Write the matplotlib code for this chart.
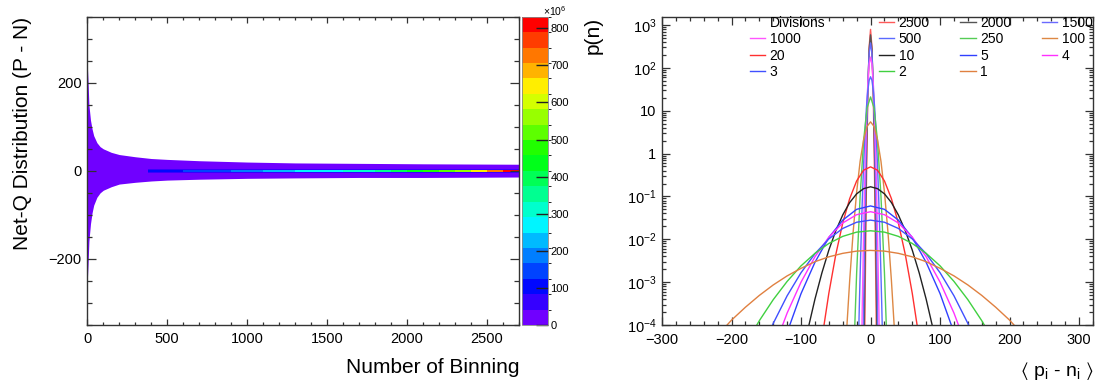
import numpy as np
import matplotlib
matplotlib.use("Agg")
import matplotlib.pyplot as plt
from matplotlib.colors import ListedColormap, BoundaryNorm, hsv_to_rgb
from matplotlib.lines import Line2D
from matplotlib.ticker import MultipleLocator, LogLocator, FuncFormatter, NullFormatter

plt.rcParams["font.family"] = ["Liberation Sans", "DejaVu Sans"]
plt.rcParams["mathtext.fontset"] = "custom"
plt.rcParams["mathtext.rm"] = "Liberation Sans"
plt.rcParams["mathtext.it"] = "Liberation Sans:italic"
plt.rcParams["mathtext.default"] = "regular"

# ---- left panel: net-Q distribution vs number of binning (2D histogram) ----
# outer envelope of the filled (lowest colour) region
env_x = [0, 5, 10, 20, 30, 40, 60, 80, 100, 150, 200, 300, 400, 500, 700, 1000, 1300, 1700, 2100, 2700]
env_upper = [240, 200, 150, 115, 95, 80, 64, 55, 50, 42, 37, 32, 28, 26, 23, 20, 18, 17, 16, 15]
env_lower = [-250, -210, -160, -120, -95, -78, -60, -50, -44, -36, -30, -26, -23, -21, -19, -17, -16, -15, -15, -14]

# bins along the x axis where the centre (P - N ~ 0) gets the high counts, in units of 1e6
center_edges = [380, 500, 600, 700, 800, 900, 1000, 1100, 1200, 1300, 1400, 1500, 1600,
                1700, 1800, 1900, 2000, 2100, 2200, 2300, 2400, 2500, 2600, 2700]
center_counts = [95, 110, 130, 145, 160, 180, 195, 215, 235, 250, 265, 285, 305,
                 330, 360, 395, 430, 475, 520, 575, 640, 720, 800]
band_counts = [50, 55, 60, 62, 65, 68, 70, 72, 74, 76, 78, 80, 80,
               80, 80, 80, 80, 80, 80, 80, 80, 80, 80]
band_edges = [-5, -1.5, 1.5, 5]
z_max = 831

# ---- right panel: p(n) for each number of divisions ----
divisions = [2500, 2000, 1500, 1000, 500, 250, 100, 20, 10, 5, 4, 3, 2, 1]
div_colors = ["#ff5a5a", "#555555", "#6a6aff", "#ff55ff", "#5a6aff", "#55cc55", "#dd8844",
              "#ff3030", "#222222", "#3040ff", "#ff30ff", "#4050ff", "#40d040", "#e08040"]

x_wide = [-220, -200, -180, -160, -140, -120, -100, -80, -60, -40, -20, 0,
          20, 40, 60, 80, 100, 120, 140, 160, 180, 200, 220]
x_mid = [-100, -90, -80, -70, -60, -50, -40, -30, -20, -10, 0, 10, 20, 30, 40, 50, 60, 70, 80, 90, 100]
x_narrow = [-40, -35, -30, -25, -20, -15, -10, -5, 0, 5, 10, 15, 20, 25, 30, 35, 40]
x_peak = [-20, -18, -16, -14, -12, -10, -8, -6, -4, -2, 0, 2, 4, 6, 8, 10, 12, 14, 16, 18, 20]

p_1 = [5.7e-5, 1.3e-4, 2.6e-4, 4.9e-4, 8.6e-4, 1.4e-3, 2.1e-3, 3.0e-3, 3.9e-3, 4.7e-3, 5.3e-3, 5.5e-3,
       5.3e-3, 4.7e-3, 3.9e-3, 3.0e-3, 2.1e-3, 1.4e-3, 8.6e-4, 4.9e-4, 2.6e-4, 1.3e-4, 5.7e-5]
p_2 = [1.7e-6, 8.3e-6, 3.5e-5, 1.26e-4, 3.9e-4, 1.04e-3, 2.4e-3, 4.7e-3, 8.0e-3, 1.17e-2, 1.47e-2, 1.58e-2,
       1.47e-2, 1.17e-2, 8.0e-3, 4.7e-3, 2.4e-3, 1.04e-3, 3.9e-4, 1.26e-4, 3.5e-5, 8.3e-6, 1.7e-6]
p_3 = [3e-8, 3.4e-7, 2.9e-6, 2.0e-5, 1.09e-4, 4.8e-4, 1.66e-3, 4.6e-3, 1.02e-2, 1.79e-2, 2.5e-2, 2.8e-2,
       2.5e-2, 1.79e-2, 1.02e-2, 4.6e-3, 1.66e-3, 4.8e-4, 1.09e-4, 2.0e-5, 2.9e-6, 3.4e-7, 3e-8]
p_4 = [1e-9, 1e-8, 2e-7, 2.8e-6, 2.6e-5, 1.9e-4, 1.0e-3, 3.9e-3, 1.12e-2, 2.4e-2, 3.75e-2, 4.4e-2,
       3.75e-2, 2.4e-2, 1.12e-2, 3.9e-3, 1.0e-3, 1.9e-4, 2.6e-5, 2.8e-6, 2e-7, 1e-8, 1e-9]
p_5 = [1e-10, 1e-9, 1.3e-8, 3.4e-7, 5.7e-6, 6.7e-5, 5.4e-4, 2.9e-3, 1.1e-2, 2.8e-2, 5.0e-2, 6.0e-2,
       5.0e-2, 2.8e-2, 1.1e-2, 2.9e-3, 5.4e-4, 6.7e-5, 5.7e-6, 3.4e-7, 1.3e-8, 1e-9, 1e-10]
p_10 = [1.3e-5, 8.0e-5, 4.0e-4, 1.64e-3, 5.6e-3, 1.58e-2, 3.7e-2, 7.2e-2, 0.115, 0.152, 0.168,
        0.152, 0.115, 7.2e-2, 3.7e-2, 1.58e-2, 5.6e-3, 1.64e-3, 4.0e-4, 8.0e-5, 1.3e-5]
p_20 = [3e-9, 1.1e-7, 2.8e-6, 4.7e-5, 5.5e-4, 4.4e-3, 2.4e-2, 8.9e-2, 0.23, 0.41, 0.49,
        0.41, 0.23, 8.9e-2, 2.4e-2, 4.4e-3, 5.5e-4, 4.7e-5, 2.8e-6, 1.1e-7, 3e-9]
p_100 = [1.5e-6, 5.2e-5, 1.1e-3, 1.5e-2, 0.126, 0.66, 2.1, 4.3, 5.5,
         4.3, 2.1, 0.66, 0.126, 1.5e-2, 1.1e-3, 5.2e-5, 1.5e-6]
p_250 = [1e-14, 1e-11, 1.2e-8, 8e-6, 1.65e-3, 0.10, 2.0, 11.6, 21,
         11.6, 2.0, 0.10, 1.65e-3, 8e-6, 1.2e-8, 1e-11, 1e-14]
p_500 = [3.8e-7, 1.4e-5, 3.5e-4, 5.9e-3, 6.9e-2, 0.55, 3.0, 11.3, 29, 51, 62,
         51, 29, 11.3, 3.0, 0.55, 6.9e-2, 5.9e-3, 3.5e-4, 1.4e-5, 3.8e-7]
p_1000 = [1e-14, 1e-11, 1e-8, 1.6e-6, 2.2e-4, 1.4e-2, 0.42, 5.9, 39, 122, 178,
          122, 39, 5.9, 0.42, 1.4e-2, 2.2e-4, 1.6e-6, 1e-8, 1e-11, 1e-14]
p_1500 = [1e-18, 1e-15, 1e-12, 1e-9, 5.2e-7, 2.7e-4, 4.4e-2, 2.3, 39, 216, 380,
          216, 39, 2.3, 4.4e-2, 2.7e-4, 5.2e-7, 1e-9, 1e-12, 1e-15, 1e-18]
p_2000 = [1e-21, 1e-18, 1e-15, 1e-12, 1e-9, 3.7e-6, 3.3e-3, 0.66, 29, 277, 590,
          277, 29, 0.66, 3.3e-3, 3.7e-6, 1e-9, 1e-12, 1e-15, 1e-18, 1e-21]
p_2500 = [1e-23, 1e-20, 1e-17, 1e-14, 1e-11, 4.4e-8, 2.2e-4, 0.16, 18, 309, 790,
          309, 18, 0.16, 2.2e-4, 4.4e-8, 1e-11, 1e-14, 1e-17, 1e-20, 1e-23]

curves = {
    2500: (x_peak, p_2500), 2000: (x_peak, p_2000), 1500: (x_peak, p_1500),
    1000: (x_peak, p_1000), 500: (x_peak, p_500), 250: (x_narrow, p_250),
    100: (x_narrow, p_100), 20: (x_mid, p_20), 10: (x_mid, p_10),
    5: (x_wide, p_5), 4: (x_wide, p_4), 3: (x_wide, p_3), 2: (x_wide, p_2), 1: (x_wide, p_1),
}

W, H = 1095, 388
fig = plt.figure(figsize=(W / 100, H / 100), dpi=100)


def box(x0, y0, x1, y1):
    return [x0 / W, 1 - y1 / H, (x1 - x0) / W, (y1 - y0) / H]


ax1 = fig.add_axes(box(87.3, 16.7, 519, 325))
cax = fig.add_axes(box(521.7, 16.7, 547.7, 325))
ax2 = fig.add_axes(box(662, 16.7, 1093, 325))

spine_col = "#333333"

# colour palette: violet -> blue -> cyan -> green -> yellow -> red, 20 levels
hues = np.linspace(0.74, 0.0, 20)
pal = hsv_to_rgb(np.column_stack([hues, np.ones(20), np.ones(20)]))
cmap = ListedColormap(pal)
norm = BoundaryNorm(np.linspace(0, z_max, 21), cmap.N)

ax1.fill_between(env_x, env_lower, env_upper, color=pal[0], lw=0)
grid = np.vstack([band_counts, center_counts, band_counts])
mesh = ax1.pcolormesh(center_edges, band_edges, grid, cmap=cmap, norm=norm)

ax1.set_xlim(0, 2700)
ax1.set_ylim(-350, 350)
ax1.xaxis.set_major_locator(MultipleLocator(500))
ax1.xaxis.set_minor_locator(MultipleLocator(100))
ax1.yaxis.set_major_locator(MultipleLocator(200))
ax1.yaxis.set_minor_locator(MultipleLocator(50))
ax1.tick_params(which="both", direction="in", top=True, right=True, labelsize=10.5,
                colors=spine_col, labelcolor="black", width=0.9)
ax1.tick_params(axis="y", which="major", length=6.3, pad=4)
ax1.tick_params(axis="y", which="minor", length=3.8)
ax1.tick_params(axis="x", which="major", length=4.3, pad=5)
ax1.tick_params(axis="x", which="minor", length=2.4)
ax1.set_xlabel("Number of Binning", fontsize=15, loc="right", labelpad=9)
ax1.set_ylabel("Net-Q Distribution (P - N)", fontsize=15, loc="top", labelpad=12)

cb = fig.colorbar(mesh, cax=cax, ticks=range(0, 900, 100))
cb.outline.set_edgecolor("#888888")
cb.outline.set_linewidth(0.6)
cax.tick_params(direction="in", length=9, width=1, colors="#222222", labelcolor="black",
                labelsize=8, pad=2)
fig.text(543 / W, 1 - 11 / H, r"$\times10^{6}$", fontsize=7.5, ha="left", va="center")

# right panel
for d, col in zip(divisions, div_colors):
    xs, ys = curves[d]
    ax2.plot(xs, ys, color=col, lw=1.0)

ax2.set_yscale("log")
ax2.set_xlim(-300, 320)
ax2.set_ylim(1e-4, 1563)
ax2.xaxis.set_major_locator(MultipleLocator(100))
ax2.xaxis.set_minor_locator(MultipleLocator(20))
ax2.yaxis.set_major_locator(LogLocator(base=10, numticks=20))
ax2.yaxis.set_minor_locator(LogLocator(base=10, subs=np.arange(2, 10), numticks=20))
ax2.yaxis.set_minor_formatter(NullFormatter())


def log_label(v, pos):
    e = int(round(np.log10(v)))
    if e == 0:
        return "1"
    if e == 1:
        return "10"
    return r"$10^{%d}$" % e


ax2.yaxis.set_major_formatter(FuncFormatter(log_label))
ax2.tick_params(which="both", direction="in", top=True, right=True, labelsize=10.5,
                colors=spine_col, labelcolor="black", width=0.9)
ax2.tick_params(which="major", length=6, pad=4)
ax2.tick_params(axis="x", which="major", pad=6)
ax2.tick_params(which="minor", length=3)
ax2.set_ylabel("p(n)", fontsize=15, loc="top", labelpad=17)
ax2.set_xlabel(r"$\langle$ p$_{\rm i}$ - n$_{\rm i}$ $\rangle$", fontsize=14, loc="right", labelpad=9)

for ax in (ax1, ax2):
    for s in ax.spines.values():
        s.set_color(spine_col)
        s.set_linewidth(1.0)

# legend: first column holds the header, the rest in three columns
handles = {d: Line2D([], [], color=c, lw=1.0) for d, c in zip(divisions, div_colors)}
header = Line2D([], [], linestyle="none")
leg_kw = dict(frameon=False, fontsize=10, handlelength=1.1, handletextpad=0.32,
              labelspacing=0.17, borderpad=0, borderaxespad=0, loc="upper left",
              bbox_transform=fig.transFigure)
leg1 = ax2.legend([header, handles[1000], handles[20], handles[3]],
                  ["Divisions", "1000", "20", "3"], ncol=1,
                  bbox_to_anchor=(750 / W, 1 - 16 / H), **leg_kw)
ax2.add_artist(leg1)
order2 = [2500, 500, 10, 2, 2000, 250, 5, 1, 1500, 100, 4]
ax2.legend([handles[d] for d in order2], [str(d) for d in order2], ncol=3,
           columnspacing=2.2, bbox_to_anchor=(879 / W, 1 - 16 / H), **leg_kw)

fig.savefig("out.png", dpi=100)
